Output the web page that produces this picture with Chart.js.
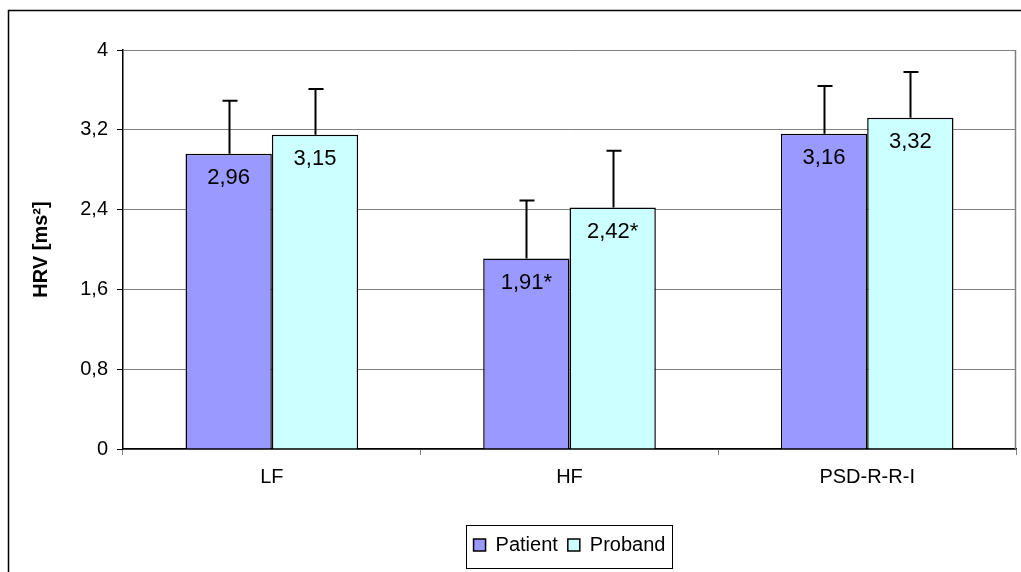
<!DOCTYPE html>
<html>
<head>
<meta charset="utf-8">
<script src="https://cdn.jsdelivr.net/npm/chart.js@4/dist/chart.umd.min.js"></script>
<style>
html,body{margin:0;padding:0;background:#fff;}
#wrap{width:1021px;height:572px;}
</style>
</head>
<body>
<div id="wrap"><canvas id="c" width="1021" height="572"></canvas></div>
<script>
const categories = ['LF', 'HF', 'PSD-R-R-I'];
const patientValues = [2.96, 1.91, 3.16];
const probandValues = [3.15, 2.42, 3.32];
const patientErrors = [0.53, 0.58, 0.48];
const probandErrors = [0.46, 0.57, 0.46];
const patientMarks = ['', '*', ''];
const probandMarks = ['', '*', ''];
const yTickLabels = ['0', '0,8', '1,6', '2,4', '3,2', '4'];
const seriesNames = ['Patient', 'Proband'];

const FONT = '"Liberation Sans", Arial, sans-serif';

const fmt = v => v.toFixed(2).replace('.', ',');

const extrasPlugin = {
  id: 'extras',
  afterDatasetsDraw(chart) {
    const ctx = chart.ctx;
    const y = chart.scales.y;
    const errs = [patientErrors, probandErrors];
    const vals = [patientValues, probandValues];
    const marks = [patientMarks, probandMarks];
    ctx.save();
    ctx.strokeStyle = '#000';
    ctx.lineWidth = 2;
    chart.data.datasets.forEach((ds, di) => {
      const meta = chart.getDatasetMeta(di);
      meta.data.forEach((bar, i) => {
        const top = y.getPixelForValue(vals[di][i] + errs[di][i]);
        const x = Math.round(bar.x) + 0.5;
        ctx.beginPath();
        ctx.moveTo(x, bar.y);
        ctx.lineTo(x, top);
        ctx.moveTo(x - 7, top);
        ctx.lineTo(x + 8, top);
        ctx.stroke();
      });
    });
    ctx.fillStyle = '#000';
    ctx.font = '22px ' + FONT;
    ctx.textAlign = 'center';
    ctx.textBaseline = 'middle';
    chart.data.datasets.forEach((ds, di) => {
      const meta = chart.getDatasetMeta(di);
      meta.data.forEach((bar, i) => {
        ctx.fillText(fmt(vals[di][i]) + marks[di][i], bar.x, bar.y + 24);
      });
    });
    ctx.restore();
  },
  afterDraw(chart) {
    const ctx = chart.ctx;
    const a = chart.chartArea;
    ctx.save();
    ctx.strokeStyle = '#808080';
    ctx.lineWidth = 1.5;
    ctx.beginPath();
    ctx.moveTo(a.right - 0.5, a.top);
    ctx.lineTo(a.right - 0.5, a.bottom);
    ctx.stroke();
    ctx.strokeStyle = '#000';
    ctx.lineWidth = 1.5;
    ctx.beginPath();
    ctx.moveTo(8.5, 572);
    ctx.lineTo(8.5, 10.5);
    ctx.lineTo(1021, 10.5);
    ctx.stroke();
    const lg = chart.legend;
    if (lg && lg.legendHitBoxes && lg.legendHitBoxes.length) {
      let minX = Infinity, maxX = -Infinity;
      lg.legendHitBoxes.forEach(h => {
        minX = Math.min(minX, h.left);
        maxX = Math.max(maxX, h.left + h.width);
      });
      ctx.strokeStyle = '#000';
      ctx.lineWidth = 1;
      ctx.strokeRect(Math.round(minX - 8) + 0.5, Math.round(lg.top) + 0.5,
        Math.round(maxX - minX + 14), Math.round(lg.bottom - lg.top + 3));
    }
    ctx.restore();
  }
};

new Chart(document.getElementById('c'), {
  type: 'bar',
  data: {
    labels: categories,
    datasets: [
      {
        label: seriesNames[0],
        data: patientValues,
        backgroundColor: '#9999FF',
        borderColor: '#000',
        borderWidth: 1.5,
        categoryPercentage: 0.58,
        barPercentage: 1.0
      },
      {
        label: seriesNames[1],
        data: probandValues,
        backgroundColor: '#CCFFFF',
        borderColor: '#000',
        borderWidth: 1.5,
        categoryPercentage: 0.58,
        barPercentage: 1.0
      }
    ]
  },
  options: {
    responsive: false,
    animation: false,
    layout: { padding: { left: 25, right: 5, top: 50, bottom: 7 } },
    plugins: {
      tooltip: { enabled: false },
      legend: {
        position: 'bottom',
        fullSize: false,
        labels: {
          color: '#000',
          font: { family: FONT, size: 20 },
          boxWidth: 12,
          boxHeight: 12,
          padding: 10
        }
      }
    },
    scales: {
      x: {
        afterFit(scale) { scale.height = 76; },
        grid: {
          display: true,
          offset: true,
          drawOnChartArea: false,
          drawTicks: true,
          tickLength: 6,
          tickColor: '#808080'
        },
        border: { display: true, color: '#000', width: 1.5 },
        ticks: {
          color: '#000',
          font: { family: FONT, size: 20 },
          padding: 10
        }
      },
      y: {
        min: 0,
        max: 4,
        afterFit(scale) { scale.width = 98; },
        afterBuildTicks(scale) {
          scale.ticks = yTickLabels.map((t, i) => ({ value: i * 0.8 }));
        },
        grid: {
          color: '#808080',
          lineWidth: 1,
          drawTicks: true,
          tickLength: 6,
          tickColor: '#000'
        },
        border: { display: true, color: '#000', width: 1.5 },
        ticks: {
          color: '#000',
          font: { family: FONT, size: 20 },
          padding: 9,
          callback: (v, i) => yTickLabels[i]
        },
        title: {
          display: true,
          text: 'HRV [ms²]',
          color: '#000',
          font: { family: FONT, size: 20, weight: 'bold' },
          padding: { top: 4, bottom: 4 }
        }
      }
    }
  },
  plugins: [extrasPlugin]
});
</script>
</body>
</html>
